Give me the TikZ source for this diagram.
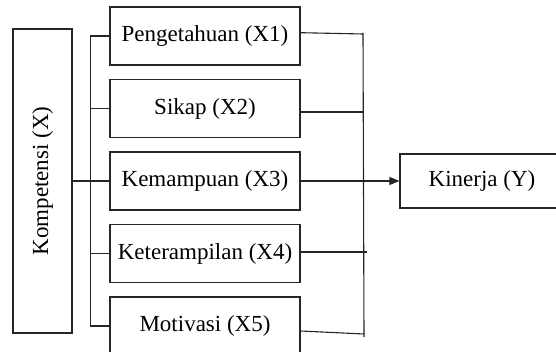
\documentclass[tikz,border=0pt]{standalone}
\usepackage{fontspec}
\setmainfont{LiberationSerif-Regular.ttf}
\usetikzlibrary{arrows.meta}
\begin{document}
\begin{tikzpicture}[x=1pt,y=-1pt,
  box/.style={draw=black!85, line width=1.2pt, minimum width=190pt,
    minimum height=58pt, inner sep=0pt, font=\rmfamily\fontsize{23}{27}\selectfont},
  lbl/.style={inner sep=0pt, font=\rmfamily\fontsize{23}{27}\selectfont},
  link/.style={draw=black!85, line width=1.1pt}]
\useasboundingbox (0,0) rectangle (556,352);
\clip (0,0) rectangle (556,352);

% main construct
\node[box, minimum width=59pt, minimum height=304pt] (komp) at (42.5,181) {};
\node[lbl, rotate=90] (kompl) at (komp.center) {Kompetensi (X)};

% indicators
\node[box] (b1) at (205,36)    {Pengetahuan (X1)};
\node[box] (b2) at (205,108.5) {Sikap (X2)};
\node[box] (b3) at (205,181)   {Kemampuan (X3)};
\node[box] (b4) at (205,253.5) {Keterampilan (X4)};
\node[box] (b5) at (205,326)   {Motivasi (X5)};

% outcome
\node[box, minimum width=164pt, minimum height=54pt] (kin) at (482,181) {Kinerja (Y)};

% left bracket
\draw[link] (b1.west) -- ++(-19,0) |- (b5.west);
\draw[link] (b2.west) -- ++(-19,0);
\draw[link] (b3.west) -- ++(-19,0);
\draw[link] (b4.west) -- ++(-19,0);
\draw[link, line width=2.2pt] (komp.east) -- ++(19,0);

% right bracket
\coordinate (r1) at (363,34);
\coordinate (r2) at (363,112);
\coordinate (r4) at (367,252);
\coordinate (r5) at (364,334);
\coordinate (rt) at (363,33);
\coordinate (rb) at (364,337);
\draw[link] (rt) -- (rb);
\draw[link] ([yshift=3.3pt]b1.east) -- (r1);
\draw[link] ([yshift=-3.5pt]b2.east) -- (r2);
\draw[link] ([yshift=1.5pt]b4.east) -- (r4);
\draw[link] ([yshift=-5pt]b5.east) -- (r5);
\draw[link, -{Triangle[length=10pt,width=8pt]}] (b3.east) -- (kin.west);
\end{tikzpicture}
\end{document}
